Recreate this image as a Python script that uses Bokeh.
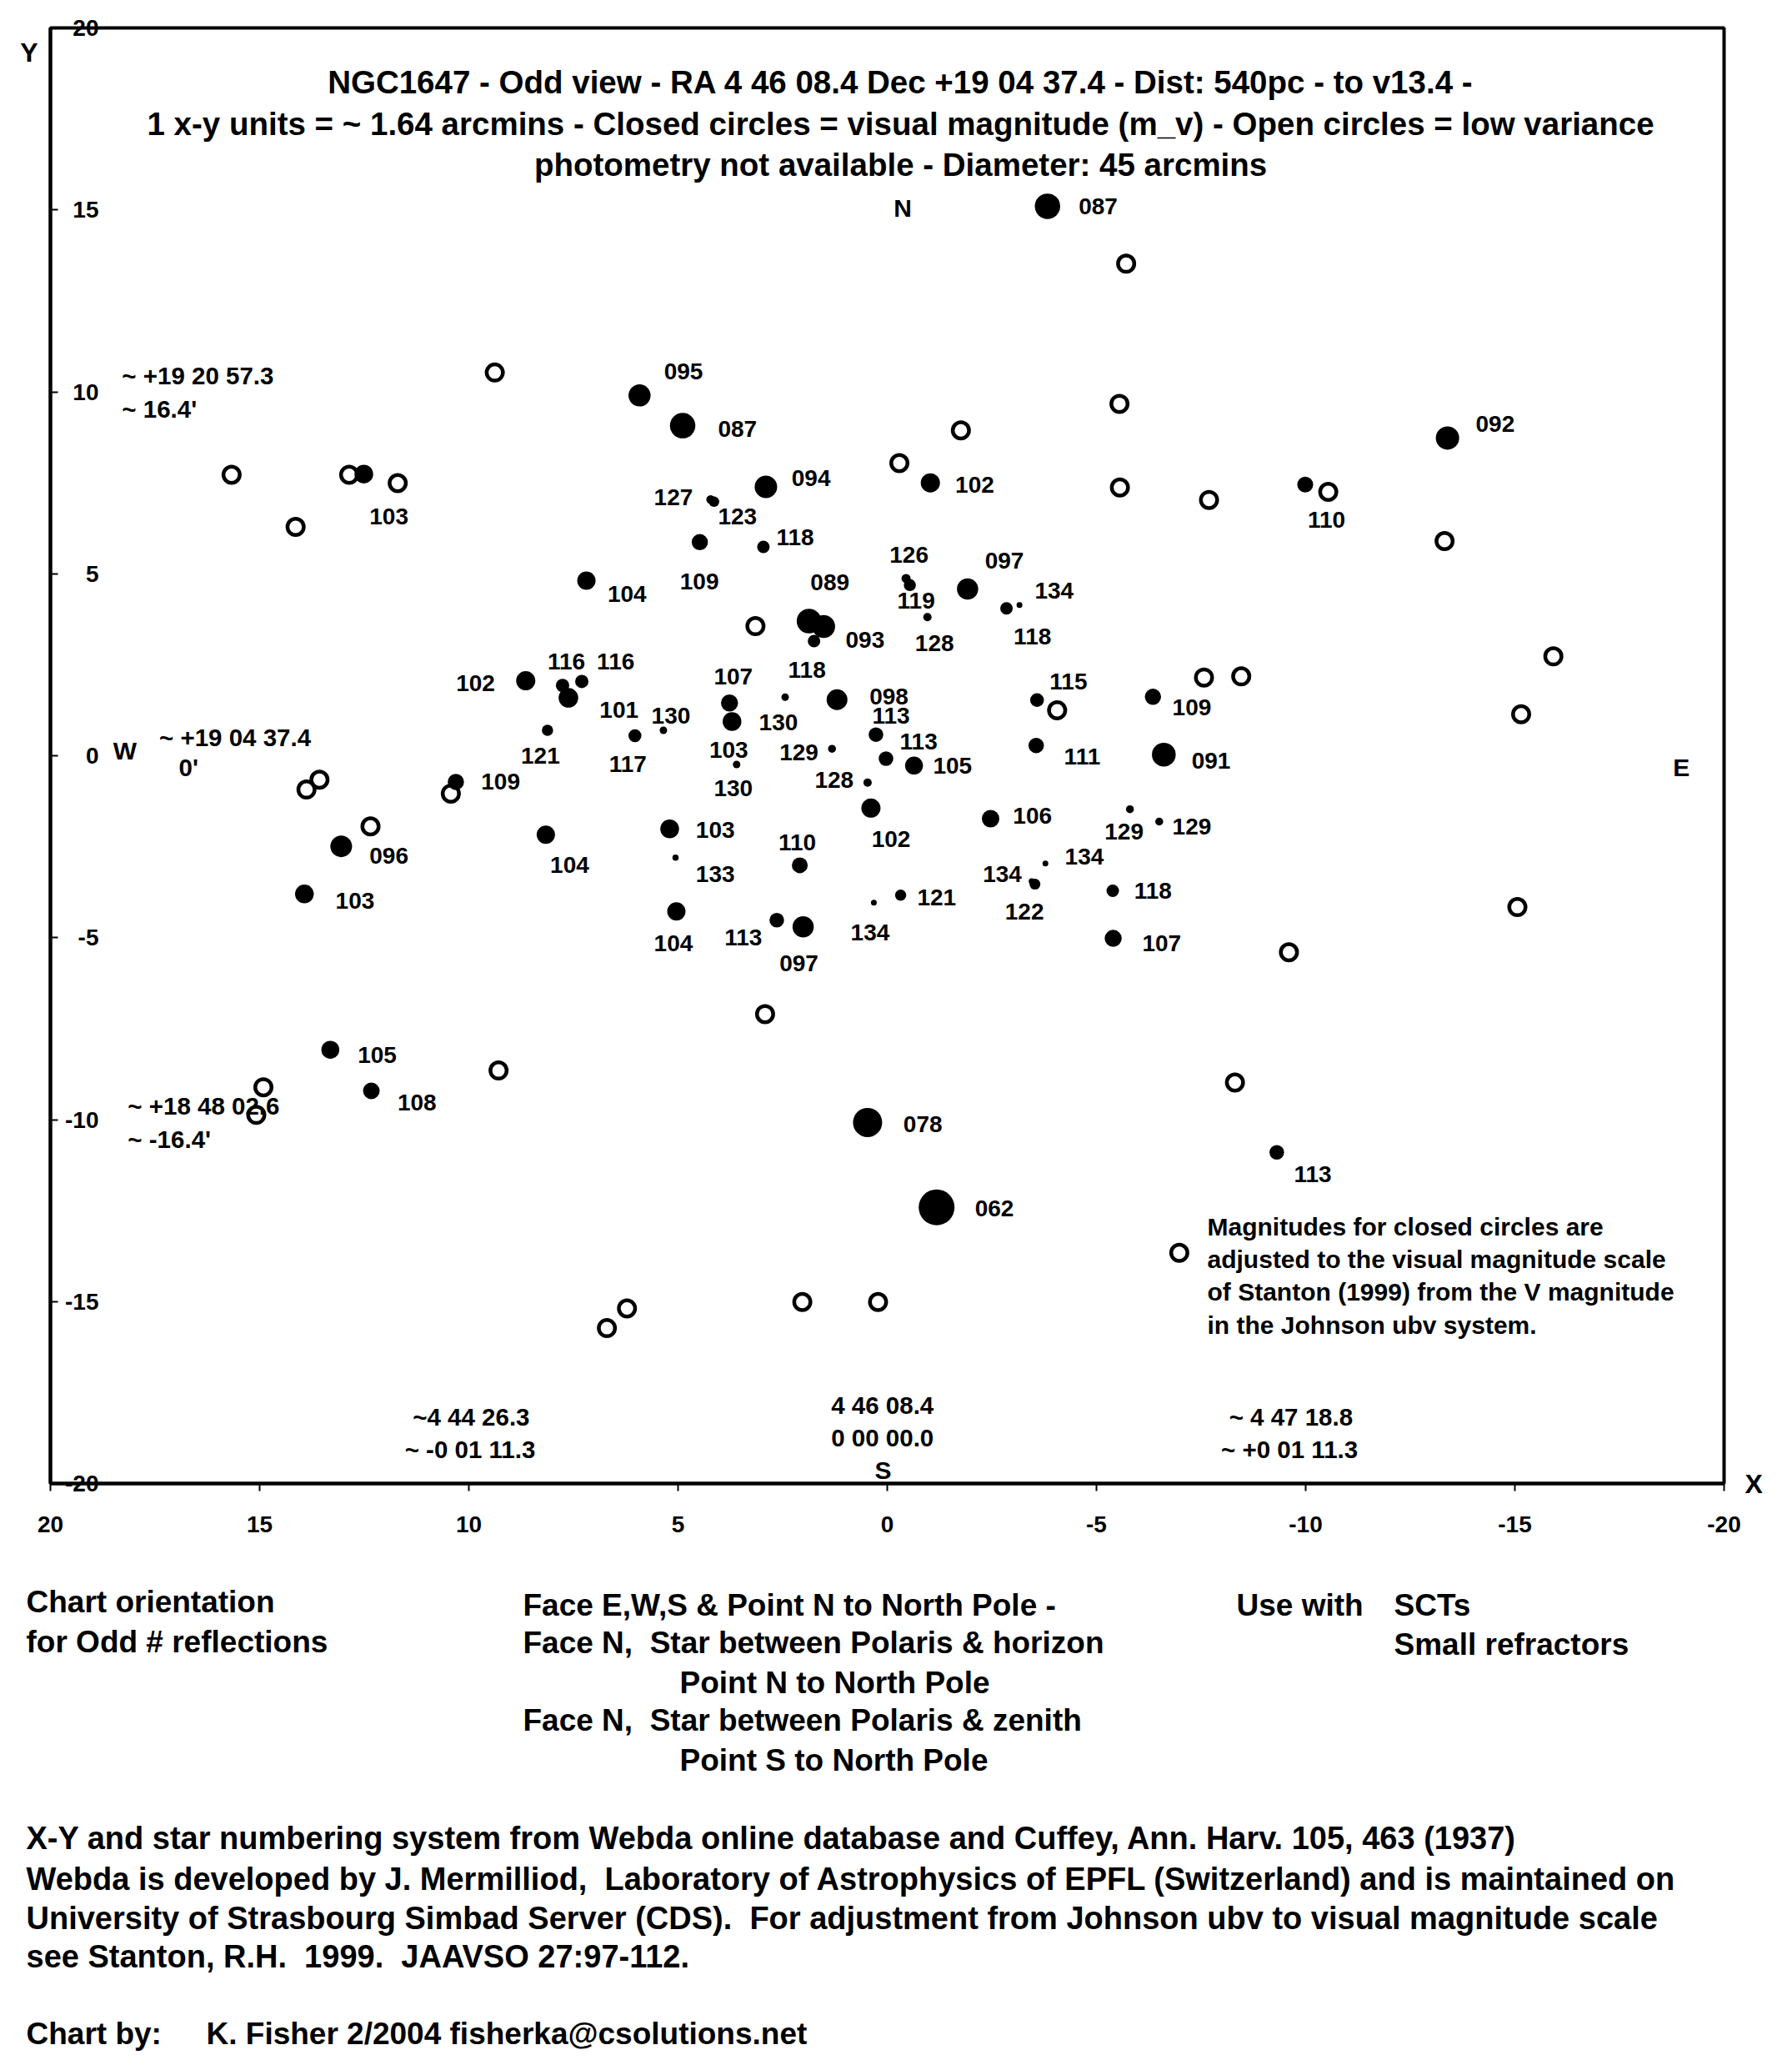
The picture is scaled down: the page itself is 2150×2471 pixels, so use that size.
from bokeh.plotting import figure
from bokeh.models import Range1d, FixedTicker, ColumnDataSource, LinearAxis
from bokeh.layouts import column
from bokeh.core.properties import value
from bokeh.embed import file_html
from bokeh.resources import INLINE

FONT = "Liberation Sans"
NB = "\u00a0"

# ---------------- data ----------------
# closed circles: visual magnitude x10 (label value)
filled_mag = [87, 95, 87, 92, 102, 94, 127, 123, 110, 103,
              109, 118, 104, 89, 93, 118, 130, 126, 119, 97,
              118, 134, 128, 102, 116, 116, 101, 121, 117, 130,
              107, 103, 130, 98, 129, 113, 113, 105, 128, 102,
              115, 111, 109, 91, 106, 129, 129, 109, 96, 104,
              103, 103, 133, 110, 134, 122, 134, 118, 121, 134,
              104, 113, 97, 107, 105, 108, 78, 62, 113]
filled_x = [-3.83, 5.92, 4.89, -13.39, -1.03, 2.90, 4.22, 4.14, -9.99, 12.51,
            4.48, 2.96, 7.19, 1.87, 1.52, 1.75, 2.44, -0.45, -0.54, -1.92,
            -2.85, -3.16, -0.96, 8.64, 7.76, 7.30, 7.62, 8.12, 6.03, 5.35,
            3.77, 3.71, 3.60, 1.20, 1.32, 0.27, 0.03, -0.64, 0.47, 0.39,
            -3.58, -3.56, -6.35, -6.61, -2.47, -5.80, -6.50, 10.31, 13.05, 8.16,
            13.93, 5.20, 5.06, 2.09, -3.78, -3.53, -3.45, -5.39, -0.32, 0.32,
            5.04, 2.64, 2.01, -5.40, 13.31, 12.33, 0.47, -1.18, -9.31]
filled_y = [15.10, 9.90, 9.07, 8.73, 7.50, 7.39, 7.04, 6.98, 7.45, 7.74,
            5.87, 5.74, 4.81, 3.70, 3.55, 3.15, 1.61, 4.87, 4.69, 4.58,
            4.05, 4.14, 3.81, 2.06, 1.93, 2.04, 1.59, 0.70, 0.55, 0.70,
            1.45, 0.94, -0.24, 1.54, 0.19, 0.58, -0.08, -0.27, -0.74, -1.44,
            1.53, 0.28, 1.62, 0.03, -1.73, -1.47, -1.81, -0.72, -2.49, -2.17,
            -3.80, -2.01, -2.80, -3.01, -2.96, -3.53, -3.45, -3.71, -3.83, -4.04,
            -4.28, -4.52, -4.70, -5.02, -8.08, -9.21, -10.08, -12.41, -10.90]

# open circles: photometry not available
open_x = [-5.71, 9.38, -1.76, -5.55, -0.29, -5.56, -7.69, -10.54, 15.67, 12.86,
          11.70, 14.14, -13.32, 3.15, -15.92, -7.57, -8.46, -4.06, -15.15, 13.57,
          13.88, 10.43, 12.35, -15.06, -9.60, 2.92, 9.29, -8.31, 14.91, 15.08,
          -6.98, 2.03, 0.22, 6.22, 6.70]
open_y = [13.52, 10.53, 8.94, 9.67, 8.04, 7.37, 7.03, 7.25, 7.72, 7.72,
          7.49, 6.29, 5.90, 3.56, 2.73, 2.15, 2.18, 1.25, 1.14, -0.66,
          -0.93, -1.04, -1.94, -4.16, -5.40, -7.10, -8.65, -8.98, -9.11, -9.87,
          -13.66, -15.01, -15.01, -15.19, -15.73]

# star number labels
label_text = ["087", "095", "087", "092", "102", "094", "127", "123", "110", "103",
              "109", "118", "104", "089", "093", "118", "130", "126", "119", "097",
              "118", "134", "128", "102", "116", "116", "101", "121", "117", "130",
              "107", "103", "130", "098", "129", "113", "113", "105", "128", "102",
              "115", "111", "109", "091", "106", "129", "129", "109", "096", "104",
              "103", "103", "133", "110", "134", "122", "134", "118", "121", "134",
              "104", "113", "097", "107", "105", "108", "078", "062", "113"]
label_x = [-5.04, 4.87, 3.58, -14.53, -2.09, 1.82, 5.11, 3.58, -10.50, 11.91,
           4.49, 2.20, 6.22, 1.37, 0.53, 1.92, 2.60, -0.52, -0.69, -2.80,
           -3.47, -3.99, -1.13, 9.84, 7.67, 6.49, 6.41, 8.29, 6.20, 5.17,
           3.68, 3.79, 3.68, -0.04, 2.11, -0.09, -0.75, -1.56, 1.27, -0.09,
           -4.33, -4.66, -7.28, -7.74, -3.47, -5.66, -7.28, 9.24, 11.91, 7.59,
           12.72, 4.11, 4.11, 2.15, -4.71, -3.28, -2.75, -6.35, -1.18, 0.41,
           5.11, 3.44, 2.11, -6.56, 12.19, 11.24, -0.85, -2.56, -10.17]
label_y = [15.10, 10.57, 8.99, 9.12, 7.45, 7.63, 7.11, 6.57, 6.48, 6.57,
           4.78, 6.01, 4.44, 4.76, 3.18, 2.36, 0.91, 5.53, 4.26, 5.35,
           3.27, 4.53, 3.10, 2.00, 2.60, 2.59, 1.27, 0.00, -0.22, 1.09,
           2.18, 0.16, -0.90, 1.63, 0.10, 1.09, 0.39, -0.27, -0.66, -2.30,
           2.04, -0.02, 1.32, -0.13, -1.65, -2.08, -1.94, -0.72, -2.74, -3.01,
           -3.98, -2.05, -3.26, -2.38, -2.78, -4.28, -3.26, -3.71, -3.89, -4.86,
           -5.16, -5.00, -5.70, -5.16, -8.22, -9.52, -10.13, -12.45, -11.49]

x_ticks = [20, 15, 10, 5, 0, -5, -10, -15, -20]
x_tick_labels = ["20", "15", "10", "5", "0", "-5", "-10", "-15", "-20"]
y_ticks = [20, 15, 10, 5, 0, -5, -10, -15, -20]
y_tick_labels = ["20", "15", "10", "5", "0", "-5", "-10", "-15", "-20"]

title_lines = ["NGC1647 - Odd view - RA 4 46 08.4 Dec +19 04 37.4 - Dist: 540pc - to v13.4 -",
               "1 x-y units = ~ 1.64 arcmins - Closed circles = visual magnitude (m_v) - Open circles = low variance",
               "photometry not available - Diameter: 45 arcmins"]
title_y = [18.52, 17.36, 16.25]

coord_text = ["~ +19 20 57.3", "~ 16.4'", "~ +19 04 37.4", "0'", "~ +18 48 02.6", "~ -16.4'",
              "~4 44 26.3", "~ -0 01 11.3", "4 46 08.4", "0 00 00.0", "~ 4 47 18.8", "~ +0 01 11.3"]
coord_x = [18.29, 18.29, 17.40, 16.93, 18.15, 18.15, 11.34, 11.53, 1.34, 1.34, -8.17, -7.98]
coord_y = [10.44, 9.53, 0.50, -0.31, -9.62, -10.54, -18.16, -19.06, -17.85, -18.75, -18.16, -19.06]

compass_text = ["N", "S", "W", "E"]
compass_x = [-0.37, 0.10, 18.22, -18.98]
compass_y = [15.05, -19.64, 0.14, -0.31]

note_lines = ["Magnitudes for closed circles are",
              "adjusted to the visual magnitude scale",
              "of Stanton (1999) from the V magnitude",
              "in the Johnson ubv system."]
note_y = [-12.94, -13.84, -14.74, -15.65]

# ---------------- main chart ----------------
p = figure(frame_width=2008, frame_height=1746,
           x_range=Range1d(20, -20), y_range=Range1d(-20, 20),
           output_backend="svg", toolbar_location=None,
           min_border_left=60, min_border_right=74, min_border_top=33, min_border_bottom=80,
           background_fill_color="white", border_fill_color="white")
p.grid.visible = False
p.outline_line_color = "black"
p.outline_line_width = 4

for ax in (p.xaxis[0], p.yaxis[0]):
    ax.axis_line_width = 4
    ax.axis_line_color = "black"
    ax.major_tick_line_width = 2
    ax.major_tick_line_color = "black"
    ax.minor_tick_line_color = None
    ax.major_label_text_font = FONT
    ax.major_label_text_font_style = "bold"
    ax.major_label_text_font_size = "28px"
    ax.major_label_text_color = "black"

p.xaxis.ticker = FixedTicker(ticks=x_ticks)
p.xaxis.major_label_overrides = dict(zip(x_ticks, x_tick_labels))
p.yaxis.ticker = FixedTicker(ticks=y_ticks)
p.yaxis.major_label_overrides = dict(zip(y_ticks, y_tick_labels))
p.xaxis.major_tick_out = 9
p.xaxis.major_tick_in = 0
p.xaxis.major_label_standoff = 30
p.yaxis.major_tick_in = 9
p.yaxis.major_tick_out = 0
p.yaxis.major_label_standoff = -58


def name_axis(tick, text, standoff):
    return LinearAxis(ticker=FixedTicker(ticks=[tick]), major_label_overrides={tick: text},
                      axis_line_color=None, major_tick_line_color=None, minor_tick_line_color=None,
                      major_tick_in=0, major_tick_out=0, major_label_standoff=standoff,
                      major_label_text_font=FONT, major_label_text_font_style="bold",
                      major_label_text_font_size="32px", major_label_text_color="black")


# axis names: "X" at the right end of the x axis, "Y" at the top left
p.add_layout(name_axis(-20, "X", 25), "right")
p.add_layout(name_axis(19.32, "Y", 15), "left")

# open circles
p.scatter(open_x, open_y, marker="circle", size=19.5, fill_alpha=0,
          line_color="black", line_width=4.5)

# closed circles, size from magnitude
sizes = [max(7.0, 43 - 0.5 * (m - 62)) for m in filled_mag]
p.scatter(filled_x, filled_y, marker="circle", size=sizes,
          fill_color="black", line_color="black", line_width=0)

lab_src = ColumnDataSource(dict(x=label_x, y=label_y, t=label_text))
p.text(x="x", y="y", text="t", source=lab_src, text_font=value(FONT),
       text_font_style="bold", text_font_size="28px", text_color="black",
       text_align="center", text_baseline="middle")

p.text(x=[-0.32] * len(title_lines), y=title_y, text=title_lines, text_font=value(FONT),
       text_font_style="bold", text_font_size="38.5px", text_color="black",
       text_align="center", text_baseline="middle")

p.text(x=coord_x, y=coord_y, text=coord_text, text_font=value(FONT),
       text_font_style="bold", text_font_size="29.5px", text_color="black",
       text_align="left", text_baseline="middle")

p.text(x=compass_x, y=compass_y, text=compass_text, text_font=value(FONT),
       text_font_style="bold", text_font_size="30px", text_color="black",
       text_align="center", text_baseline="middle")

p.text(x=[-7.65] * len(note_lines), y=note_y, text=note_lines, text_font=value(FONT),
       text_font_style="bold", text_font_size="30px", text_color="black",
       text_align="left", text_baseline="middle")

# ---------------- text block below ----------------
W2, H2 = 2142, 604
p2 = figure(width=W2, height=H2, x_range=Range1d(0, W2), y_range=Range1d(H2, 0),
            output_backend="svg", toolbar_location=None,
            x_axis_location=None, y_axis_location=None, min_border=0,
            background_fill_color="white", border_fill_color="white")
p2.grid.visible = False
p2.outline_line_color = None

for fig in (p, p2):
    try:
        fig.frame_align = False
    except Exception:
        pass

orient = [
    ("Chart orientation", 31, 62),
    ("for Odd # reflections", 31, 110),
    ("Face E,W,S & Point N to North Pole -", 627, 66),
    ("Face N, " + NB + "Star between Polaris & horizon", 627, 111),
    ("Point N to North Pole", 815, 159),
    ("Face N, " + NB + "Star between Polaris & zenith", 627, 204),
    ("Point S to North Pole", 815, 252),
    ("Use with", 1483, 66),
    ("SCTs", 1672, 66),
    ("Small refractors", 1672, 113),
    ("Chart by:", 31, 580),
    ("K. Fisher 2/2004 fisherka@csolutions.net", 247, 580),
]
footer = [
    ("X-Y and star numbering system from Webda online database and Cuffey, Ann. Harv. 105, 463 (1937)", 31, 345),
    ("Webda is developed by J. Mermilliod, " + NB + "Laboratory of Astrophysics of EPFL (Switzerland) and is maintained on", 31, 394),
    ("University of Strasbourg Simbad Server (CDS). " + NB + "For adjustment from Johnson ubv to visual magnitude scale", 31, 441),
    ("see Stanton, R.H. " + NB + "1999. " + NB + "JAAVSO 27:97-112.", 31, 487),
]
p2.text(x=[n[1] for n in orient], y=[n[2] for n in orient], text=[n[0] for n in orient],
        text_font=value(FONT), text_font_style="bold", text_font_size="37px",
        text_color="black", text_align="left", text_baseline="middle")
p2.text(x=[n[1] for n in footer], y=[n[2] for n in footer], text=[n[0] for n in footer],
        text_font=value(FONT), text_font_style="bold", text_font_size="38px",
        text_color="black", text_align="left", text_baseline="middle")

layout = column(p, p2, spacing=0)
open("out.html", "w").write(file_html(layout, INLINE))
